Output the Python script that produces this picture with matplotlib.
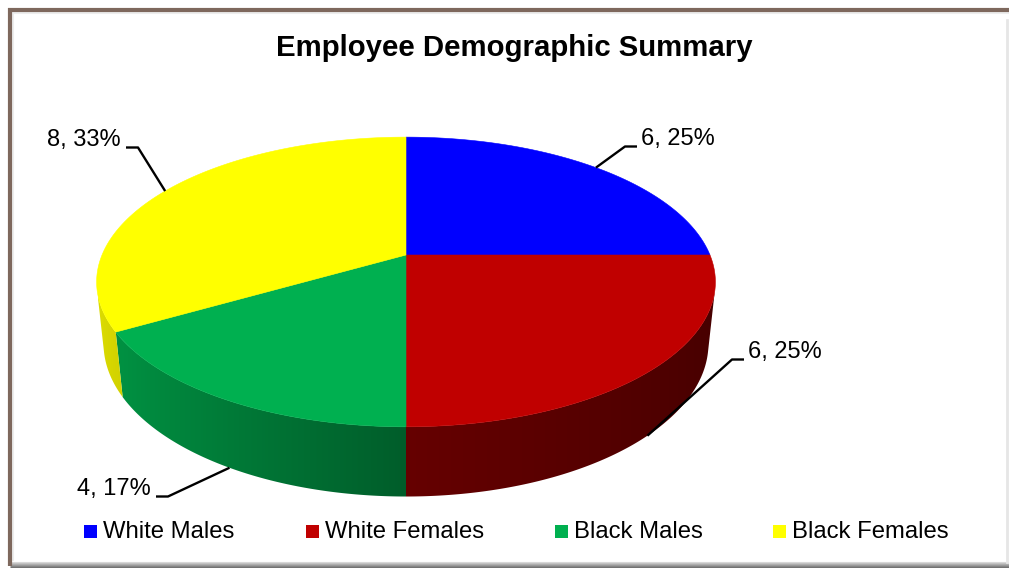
import numpy as np
import matplotlib
matplotlib.use("Agg")
import matplotlib.pyplot as plt
from matplotlib.patches import Polygon, Rectangle

plt.rcParams["font.family"] = ["Liberation Sans", "DejaVu Sans"]

# data
TITLE = "Employee Demographic Summary"
CATEGORIES = ["White Males", "White Females", "Black Males", "Black Females"]
COUNTS = [6, 6, 4, 8]
COLORS = ["#0000FF", "#C00000", "#00B050", "#FFFF00"]

# layout (pixels): label text anchor x, y, alignment
LABEL_POS = [(641, 139, "left"), (748, 352, "left"),
             (151, 489, "right"), (121, 140, "right")]
LEGEND_X = [84, 306, 555, 773]

# 3d pie geometry (perspective view, pixel space)
CX, CY = 406, 255
SIN_E = 0.46
COS_E = np.sqrt(1 - SIN_E ** 2)
DIST = 4.77
FOC = 1450.0
THICK = 0.23


def project(a, h):
    """a: clockwise angle from 12 o'clock, h: 0 top surface, -THICK bottom."""
    u, t = np.sin(a), np.cos(a)
    Y = t * SIN_E + h * COS_E
    Z = t * COS_E - h * SIN_E + DIST
    return CX + FOC * u / Z, CY - FOC * Y / Z


def shade_factor(a):
    return np.interp(np.sin(a), [-1, 0, 1], [0.87, 0.53, 0.37])


fig = plt.figure(figsize=(10.09, 5.68), dpi=100)
ax = fig.add_axes([0, 0, 1, 1])
ax.set_xlim(0, 1009)
ax.set_ylim(568, 0)
ax.axis("off")

# frame with shadow
ax.add_patch(Rectangle((10, 10), 1000, 553, facecolor="white", edgecolor="none", zorder=0))
for i, g in enumerate(np.linspace(0.85, 0.45, 6)):
    ax.plot([10, 1009], [562 + i, 562 + i], color=str(g), lw=0.8, zorder=1,
            solid_capstyle="butt")
ax.plot([1007, 1007], [20, 562], color="#E6E6E6", lw=2, zorder=1)
ax.plot([10, 10], [8, 566], color="#7E685D", lw=3.0, zorder=2, solid_capstyle="butt")
ax.plot([8, 1009], [10, 10], color="#7E685D", lw=3.0, zorder=2, solid_capstyle="butt")
ax.plot([13, 1009], [13, 13], color="#EDEDED", lw=1.5, zorder=1)
ax.plot([13, 13], [13, 560], color="#EDEDED", lw=1.5, zorder=1)

total = sum(COUNTS)
bounds = np.concatenate([[0], np.cumsum(COUNTS)]) / total * 2 * np.pi
a_lo = np.arccos(-1.0 / (DIST * COS_E))
a_hi = 2 * np.pi - a_lo

# side walls: gradient image clipped to each visible wall piece
for k, col in enumerate(COLORS):
    b0, b1 = max(bounds[k], a_lo), min(bounds[k + 1], a_hi)
    if b1 <= b0:
        continue
    aa = np.linspace(b0, b1, 200)
    top = [project(a, 0) for a in aa]
    bot = [project(a, -THICK) for a in aa[::-1]]
    poly = Polygon(top + bot, closed=True, facecolor="none", edgecolor="none")
    ax.add_patch(poly)
    xm = np.array([project(a, -THICK / 2)[0] for a in aa])
    order = np.argsort(xm)
    xs = np.linspace(xm.min() - 3, xm.max() + 3, 400)
    f = np.interp(xs, xm[order], shade_factor(aa[order]))
    rgb = np.array(matplotlib.colors.to_rgb(col))
    img = (f[:, None] * rgb[None, :])[None, :, :]
    ys = [p[1] for p in top + bot]
    im = ax.imshow(img, extent=(xs[0], xs[-1], max(ys) + 2, min(ys) - 2),
                   aspect="auto", interpolation="bilinear", zorder=3)
    im.set_clip_path(poly)

# top faces
for k, col in enumerate(COLORS):
    aa = np.linspace(bounds[k], bounds[k + 1], 200)
    pts = [(CX, CY)] + [project(a, 0) for a in aa]
    ax.add_patch(Polygon(pts, closed=True, facecolor=col, edgecolor=col,
                         lw=0.4, zorder=4))

# data labels with leader lines
for k, (lx, ly, ha) in enumerate(LABEL_POS):
    am = 0.5 * (bounds[k] + bounds[k + 1])
    h = 0 if np.cos(am) > 0 else -THICK
    axp, ayp = project(am, h)
    pct = COUNTS[k] / total * 100
    ax.text(lx, ly, f"{COUNTS[k]}, {pct:.0f}%", ha=ha, va="center",
            fontsize=17, color="black", zorder=6)
    if ha == "left":
        xs = [lx - 4, lx - 16, axp]
    else:
        xs = [lx + 5, lx + 17, axp]
    ys = [ly + 7.5, ly + 7.5, ayp]
    ax.plot(xs, ys, color="black", lw=1.7, zorder=5, solid_capstyle="butt")

ax.text(514, 48, TITLE, ha="center", va="center", fontsize=21.2,
        fontweight="bold", color="black")

# legend
for x, lab, col in zip(LEGEND_X, CATEGORIES, COLORS):
    ax.add_patch(Rectangle((x, 525), 13, 13, facecolor=col, edgecolor="none", zorder=5))
    ax.text(x + 19, 532, lab, ha="left", va="center", fontsize=17.2, color="black")

ax.set_xlim(0, 1009)
ax.set_ylim(568, 0)
fig.savefig("out.png", dpi=100)
